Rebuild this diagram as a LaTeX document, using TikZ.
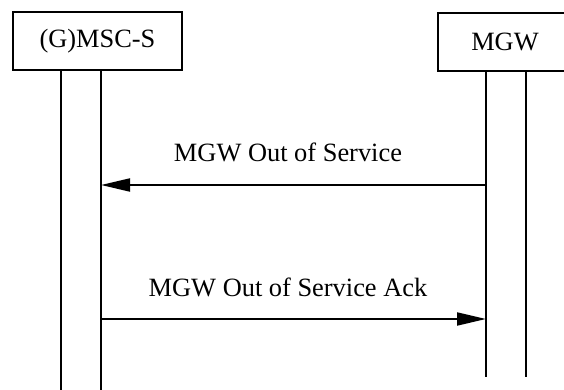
\documentclass[tikz,border=0pt]{standalone}
\usepackage{fontspec}
\setmainfont{Liberation Serif}
\usetikzlibrary{arrows.meta,positioning}

\begin{document}
\begin{tikzpicture}[
  x=0.5pt, y=-0.5pt,
  entity/.style={draw=black, line width=1pt, fill=white,
    font=\fontsize{13.2}{15}\selectfont, inner sep=0pt},
  lifeline/.style={line width=1pt, draw=black},
  msg/.style={-{Triangle[length=14.5pt, width=6.5pt]}, line width=1pt, draw=black},
  msglabel/.style={font=\fontsize{13.2}{15}\selectfont, anchor=base, inner sep=0pt}
]
  \clip (0,0) rectangle (564,390);

  \node[entity, minimum width=84.5pt, minimum height=29pt] (msc) at (97.5,41) {(G)MSC-S};
  \node[entity, minimum width=67pt, minimum height=29pt] (mgw) at (505,42) {MGW};

  % lifelines
  \coordinate (mscA) at (61,390);
  \coordinate (mscB) at (101,390);
  \coordinate (mgwA) at (486,377);
  \coordinate (mgwB) at (526,377);
  \draw[lifeline] (msc.south -| mscA) -- (mscA);
  \draw[lifeline] (msc.south -| mscB) -- (mscB);
  \draw[lifeline] (mgw.south -| mgwA) -- (mgwA);
  \draw[lifeline] (mgw.south -| mgwB) -- (mgwB);

  % messages
  \coordinate (oos) at (0,185);
  \coordinate (ack) at (0,319);
  \draw[msg] (mgwA |- oos) -- (mscB |- oos)
    node[msglabel, midway, yshift=11.5pt, xshift=-2.75pt] {MGW Out of Service};
  \draw[msg] (mscB |- ack) -- (mgwA |- ack)
    node[msglabel, midway, yshift=11.2pt, xshift=-2.75pt] {MGW Out of Service Ack};
\end{tikzpicture}
\end{document}
